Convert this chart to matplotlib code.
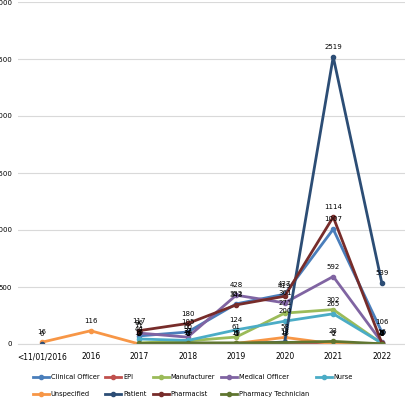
import numpy as np
import matplotlib

matplotlib.use('Agg')
import matplotlib.pyplot as plt

nan = np.nan
years = ['<11/01/2016', '2016', '2017', '2018', '2019', '2020', '2021', '2022']

clinical_officer = [nan, nan, 71, 105, 352, 437, 1007, 106]
epi = [nan, nan, 2, 1, 1, 3, 6, 1]
manufacturer = [nan, nan, 10, 27, 61, 271, 302, 5]
medical_officer = [nan, nan, 96, 60, 428, 361, 592, 16]
nurse = [nan, nan, 44, 31, 124, 200, 265, 8]
unspecified = [16, 116, 0, 0, 5, 58, 2, 0]
patient = [0, nan, 0, 0, 0, 17, 2519, 539]
pharmacist = [nan, nan, 117, 180, 343, 419, 1114, 10]
pharmacy_tech = [nan, nan, 5, 10, 10, 13, 23, 2]

series = [
    ('Clinical Officer', clinical_officer, '#4A7EBB'),
    ('EPI', epi, '#C0504D'),
    ('Manufacturer', manufacturer, '#9BBB59'),
    ('Medical Officer', medical_officer, '#8064A2'),
    ('Nurse', nurse, '#4BACC6'),
    ('Unspecified', unspecified, '#F79646'),
    ('Patient', patient, '#2C4D75'),
    ('Pharmacist', pharmacist, '#772C2A'),
    ('Pharmacy Technician', pharmacy_tech, '#5F7530'),
]

plt.rcParams['font.family'] = ['Liberation Sans Narrow', 'DejaVu Sans']

fig = plt.figure(figsize=(4.06, 4.0), dpi=100)
ax = fig.add_axes([0.044, 0.14, 0.956, 0.855])

x = np.arange(len(years))
handles = []
for name, vals, col in series:
    v = np.array(vals, dtype=float)
    h, = ax.plot(x, v, '-', color=col, linewidth=2, marker='o', markersize=3, label=name)
    handles.append(h)
    for xi, yi in zip(x, v):
        if not np.isnan(yi):
            ax.annotate(f'{int(yi)}', (xi, yi), xytext=(0, 5), textcoords='offset points',
                        ha='center', va='bottom', fontsize=5, color='black')

ax.set_xlim(-0.5, len(years) - 0.5)
ax.set_ylim(0, 3000)
ax.set_yticks(range(0, 3001, 500))
ax.set_xticks(x)
ax.set_xticklabels(years, fontsize=5.5)
ax.tick_params(axis='y', labelsize=5, length=0, pad=4)
ax.tick_params(axis='x', length=0, pad=6)
ax.grid(axis='y', color='#D9D9D9', linewidth=0.8)
ax.set_axisbelow(True)
for s in ['top', 'right', 'left']:
    ax.spines[s].set_visible(False)
ax.spines['bottom'].set_color('#D9D9D9')

# legend fills column by column, so interleave to get two rows
order = [0, 5, 1, 6, 2, 7, 3, 8, 4]
fig.legend([handles[i] for i in order], [series[i][0] for i in order],
           loc='center', bbox_to_anchor=(0.475, 0.036), ncol=5, fontsize=4.8,
           frameon=False, handlelength=2.4, columnspacing=0.9, handletextpad=0.3,
           labelspacing=1.6)

fig.savefig('out.png', dpi=100)
